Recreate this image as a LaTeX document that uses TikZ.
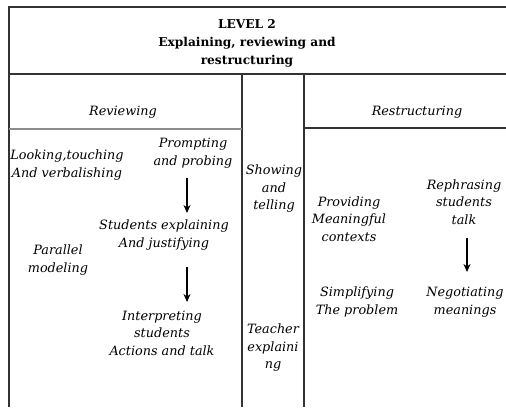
\documentclass[tikz,border=0pt]{standalone}
\usepackage{fontspec}
\setmainfont{DejaVu Serif}
\usetikzlibrary{arrows.meta,positioning,calc}
\tikzset{
    frame line/.style={black!80,line width=1.3pt},
    review line/.style={black!45,line width=2pt},
    arr/.style={-{Stealth[length=8pt,width=7pt]},line width=1.2pt},
    label text/.style={align=center,inner sep=1pt,font=\fontsize{12.8}{17.5}\selectfont\itshape},
    title text/.style={align=center,inner sep=1pt,font=\fontsize{12.2}{18}\selectfont\bfseries},
}

\begin{document}
\begin{tikzpicture}[x=1pt,y=-1pt]

        \useasboundingbox (0,0) rectangle (506,407);

        % frame and columns
        \draw[frame line] (9,407) -- (9,7) -- (506,7);
        \draw[frame line] (9,74) -- (506,74);
        \draw[frame line] (242,74) -- (242,407);
        \draw[frame line] (304,74) -- (304,407);
        \draw[review line] (9,129) -- (242,129);
        \draw[frame line] (304,128) -- (506,128);

        \node[title text] (title) at (247,43) {LEVEL 2\\Explaining, reviewing and\\restructuring};

        \node[label text] (reviewing) at (123,112) {Reviewing};
        \node[label text] (restructuring) at (417,112) {Restructuring};

        % reviewing column
        \node[label text] (looking) at (67,165) {Looking,touching\\And verbalishing};
        \node[label text] (prompting) at (193,153) {Prompting\\and probing};
        \node[label text] (explaining) at (164,235) {Students explaining\\And justifying};
        \node[label text] (parallel) at (58,260) {Parallel\\modeling};
        \node[label text] (interpreting) at (162,333) {Interpreting\\students\\Actions and talk};

        \draw[arr] ($(prompting.center)+(-6,25)$) -- ($(explaining.center)+(23,-22)$);
        \draw[arr] ($(explaining.center)+(23,32)$) -- ($(interpreting.center)+(25,-31)$);

        % middle column
        \node[label text] (showing) at (274,189) {Showing\\and\\telling};
        \node[label text] (teacher) at (273,348) {Teacher\\explaini\\ng};

        % restructuring column
        \node[label text] (providing) at (349,219) {Providing\\Meaningful\\contexts};
        \node[label text] (rephrasing) at (464,202) {Rephrasing\\students\\talk};
        \node[label text] (simplifying) at (357,302) {Simplifying\\The problem};
        \node[label text] (negotiating) at (465,302) {Negotiating\\meanings};

        \draw[arr] ($(rephrasing.center)+(3,36)$) -- ($(negotiating.center)+(2,-30)$);

\end{tikzpicture}
\end{document}
